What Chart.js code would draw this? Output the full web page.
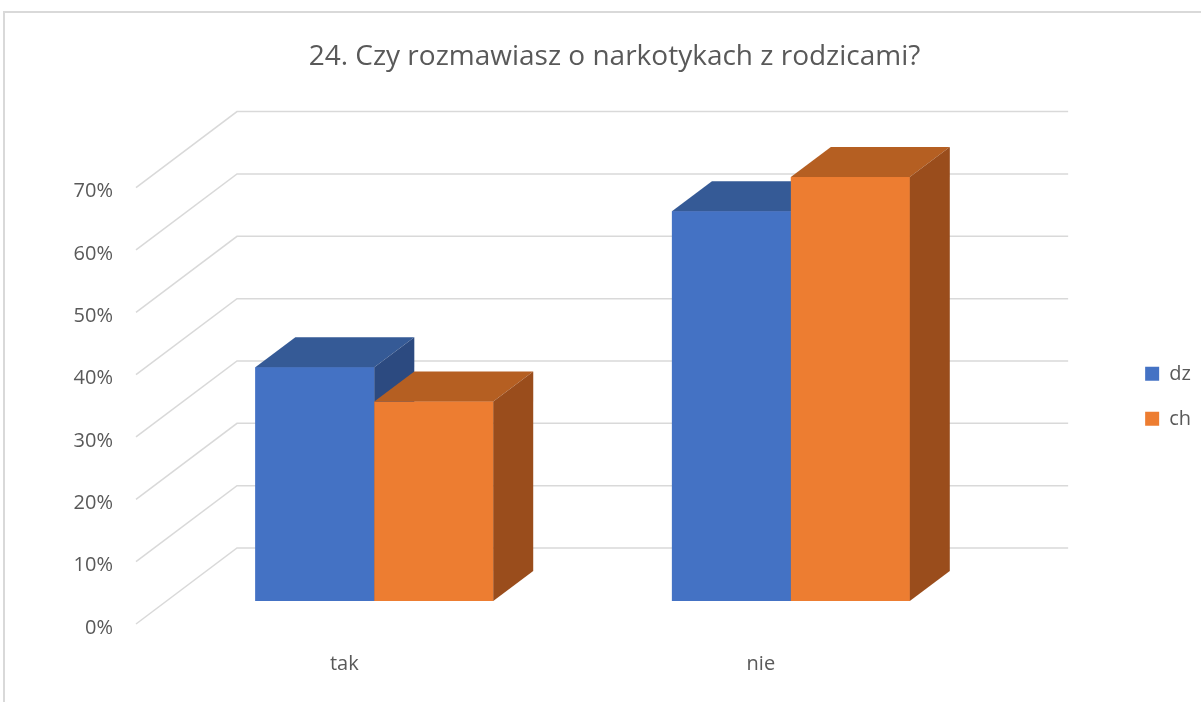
<!DOCTYPE html>
<html>
<head>
  <meta charset="UTF-8">
  <title>24. Czy rozmawiasz o narkotykach z rodzicami?</title>
  <script src="https://cdn.jsdelivr.net/npm/chart.js"></script>
  <style>
    html, body { margin: 0; padding: 0; background: #fff; }
  </style>
</head>
<body>

<canvas id="myChart" width="1201" height="702"></canvas>

<script>
  // data
  const labels = ['tak', 'nie'];
  const dz = [0.375, 0.625];
  const ch = [0.32, 0.68];
  const yTickLabels = ['0%', '10%', '20%', '30%', '40%', '50%', '60%', '70%'];

  const txt = '#595959';
  const fontFam = "'Open Sans', 'Noto Sans', sans-serif";

  // fake 3D: depth of a bar
  const DX = 40, DY = 30;

  const depth3d = {
    id: 'depth3d',
    beforeDraw(chart) {
      const c = chart.ctx;
      c.save();
      c.fillStyle = '#fff';
      c.fillRect(0, 0, chart.width, chart.height);
      c.strokeStyle = '#d9d9d9';
      c.lineWidth = 2;
      c.beginPath();
      c.moveTo(4, chart.height);
      c.lineTo(4, 12);
      c.lineTo(chart.width, 12);
      c.stroke();
      c.restore();
    },
    beforeDatasetsDraw(chart) {
      // back wall + floor-front gridlines
      const c = chart.ctx, a = chart.chartArea, y = chart.scales.y;
      c.save();
      c.strokeStyle = '#d9d9d9';
      c.lineWidth = 1.5;
      y.ticks.forEach(t => {
        const py = y.getPixelForValue(t.value);
        c.beginPath();
        c.moveTo(a.left - 30, py + 23);
        c.lineTo(a.left + 71, py - 53);
        c.lineTo(a.right + 69, py - 53);
        c.stroke();
      });
      c.restore();
    },
    afterDatasetsDraw(chart) {
      // repaint each bar as a box, left to right, so the next bar hides the side of the previous
      const c = chart.ctx;
      const sets = chart.data.datasets;
      c.save();
      labels.forEach((lab, j) => {
        sets.forEach((ds, i) => {
          const bar = chart.getDatasetMeta(i).data[j];
          const p = bar.getProps(['x', 'y', 'base', 'width'], true);
          const l = p.x - p.width / 2, r = p.x + p.width / 2;
          c.fillStyle = ds.backgroundColor;
          c.fillRect(l, p.y, p.width, p.base - p.y);
          c.fillStyle = ds.topColor;
          c.beginPath();
          c.moveTo(l, p.y);
          c.lineTo(l + DX, p.y - DY);
          c.lineTo(r + DX, p.y - DY);
          c.lineTo(r, p.y);
          c.closePath();
          c.fill();
          c.fillStyle = ds.sideColor;
          c.beginPath();
          c.moveTo(r, p.y);
          c.lineTo(r + DX, p.y - DY);
          c.lineTo(r + DX, p.base - DY);
          c.lineTo(r, p.base);
          c.closePath();
          c.fill();
        });
      });
      c.restore();
    }
  };

  const ctx = document.getElementById('myChart');
  const chart = new Chart(ctx, {
    type: 'bar',
    data: {
      labels: labels,
      datasets: [{
        label: 'dz',
        data: dz,
        backgroundColor: '#4472C4',
        topColor: '#355A96',
        sideColor: '#2C4A80'
      }, {
        label: 'ch',
        data: ch,
        backgroundColor: '#ED7D31',
        topColor: '#B55F22',
        sideColor: '#9A4D1C'
      }]
    },
    plugins: [depth3d],
    options: {
      responsive: false,
      animation: false,
      layout: { padding: { left: 28, right: 0, top: 0, bottom: 0 } },
      datasets: {
        bar: { categoryPercentage: 0.571, barPercentage: 1 }
      },
      plugins: {
        title: {
          display: true,
          text: '24. Czy rozmawiasz o narkotykach z rodzicami?',
          color: txt,
          font: { family: fontFam, size: 28, weight: 'normal' },
          padding: { top: 40, bottom: 91 }
        },
        legend: {
          position: 'right',
          fullSize: false,
          title: { display: true, text: '', font: { size: 10 }, padding: { top: 15, bottom: 0 } },
          labels: {
            color: txt,
            font: { family: fontFam, size: 20 },
            boxWidth: 14,
            boxHeight: 14,
            padding: 25
          }
        },
        tooltip: { enabled: false }
      },
      scales: {
        x: {
          grid: { display: false },
          border: { display: false },
          ticks: {
            color: txt,
            font: { family: fontFam, size: 20 },
            labelOffset: -30,
            padding: 43
          },
          afterFit(s) { s.height = 101; }
        },
        y: {
          min: 0,
          max: 0.7,
          grid: { display: false, drawTicks: false },
          border: { display: false },
          ticks: {
            stepSize: 0.1,
            color: txt,
            font: { family: fontFam, size: 20 },
            padding: 53,
            labelOffset: 27,
            callback: (v, i) => yTickLabels[i]
          },
          afterFit(s) { s.width = 138; }
        },
        y2: {
          position: 'right',
          grid: { display: false },
          border: { display: false },
          ticks: { display: false },
          afterFit(s) { s.width = 121; }
        }
      }
    }
  });
</script>

</body>
</html>
